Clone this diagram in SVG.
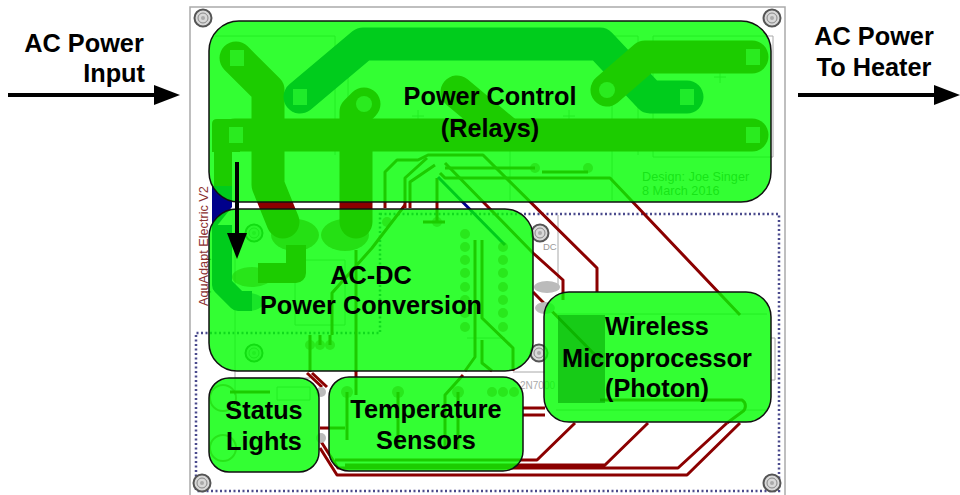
<svg xmlns="http://www.w3.org/2000/svg" width="960" height="495" viewBox="0 0 960 495">
<style>
.w{fill:none;stroke-width:33;stroke-linecap:round;stroke-linejoin:round}
.r{stroke:#8b0000}.b{stroke:#00008b}
.t{fill:none;stroke-width:3;stroke-linejoin:round}
.d{fill:none;stroke:#4a4a8c;stroke-width:2.5;stroke-dasharray:2 2.5}
.s{fill:none;stroke:#a8a8a8;stroke-width:1}
.g{fill:#00ff00;fill-opacity:.8;stroke:#111;stroke-width:1.5}
.l{font:bold 25.3px "Liberation Sans",Arial,sans-serif;fill:#000;text-anchor:middle}
.a{fill:none;stroke:#000;stroke-width:4}
.h{fill:#d8d8d8;stroke:#555;stroke-width:2}
.p{fill:#8b0000;opacity:.45}
</style>
<defs>
<g id="hole"><circle r="8.5" class="h"/><circle r="5" fill="none" stroke="#888"/><circle r="2" fill="#aaa"/></g>
<marker id="ah" markerUnits="userSpaceOnUse" markerWidth="26" markerHeight="20" refX="12" refY="10" orient="auto"><path d="M0 0L26 10L0 20Z" fill="#000"/></marker>
</defs>
<rect width="960" height="495" fill="#fff"/>
<g id="pcb">
<rect x="190" y="7" width="595" height="490" fill="#fff" stroke="#aaa" stroke-width="1.5"/>
<path class="d" d="M380 214H779V491H196V333H380Z"/>
<path class="s" d="M215 36H335V155M348 36V155M500 36H638V155M653 36H773V157H653ZM612 100V200M510 150V200M558 215V290M235 250V395M295 260H345V325H295ZM235 378H310M513 372H545M467 338H505M771 338H775V380H771M556 314H767M556 410H767M277 387H310V400H277ZM412 116h12M418 110v12M563 116h12M569 110v12M714 77h12M720 71v12"/>
<path class="w r" d="M236 58L268 90V185L283 222"/>
<path class="w b" d="M300 97L363 44H600L650 97H687"/>
<path class="w r" d="M364 104L356 112V222"/>
<path class="w r" d="M235 135H752"/>
<path d="M212 124Q212 119 217 119H240V152H212Z" fill="#8b0000"/>
<path class="w r" d="M457 92L505 132"/>
<path class="w r" d="M752 57H645L607 90"/>
<path d="M214 152H232V188H214Z" fill="#8b0000"/>
<path d="M212 186H232V207L212 232Z" fill="#00008b"/>
<path fill="none" stroke="#00008b" stroke-width="20" stroke-linejoin="round" d="M222 225V285L238 301H252"/>
<path fill="none" stroke="#8b0000" stroke-width="20" stroke-linejoin="round" d="M296 245V273H258"/>
<ellipse cx="295" cy="235" rx="24" ry="16" fill="#8b0000" opacity=".6"/>
<ellipse cx="345" cy="235" rx="24" ry="16" fill="#8b0000" opacity=".6"/>
<ellipse cx="252" cy="277" rx="20" ry="10" fill="#8b0000" opacity=".5"/>
<ellipse cx="248" cy="302" rx="16" ry="9" fill="#00008b" opacity=".5"/>
<g class="r">
<path class="t" d="M385 208V172L397 160H418L428 155H483L597 268V292"/>
<path class="t" d="M405 208V178L427 158M410 208V182L435 165M437 222V178"/>
<path class="t" d="M445 163L533 253L563 280V300"/>
<path class="t" d="M445 168H535M542 172H588M440 173L445 178H610L740 315"/>
<path class="t" d="M405 205L372 248L332 293V335M310 335V372M320 335V345M330 335V345M356 250V372M475 240V357L465 371M482 240V318L513 348V371M482 340V363L492 371M423 222H445"/>
<path class="t" d="M312 373L327 387M307 373L322 387"/>
<path class="t" d="M320 448L337 475H687L740 423M320 440L338 468H678L727 423M320 428H345M356 371V395M463 375L445 395V450M523 408H545M523 415H545M345 465H605L648 423M335 460H537L575 423M347 392V440M398 392V445M458 392V450M533 292L600 360M230 392H270"/>
<path class="t" d="M600 400H742A7 7 0 0 1 742 412L727 423"/>
</g>
<path class="t b" d="M438 177L505 245"/>
<g fill="none" stroke="#8b0000" stroke-width="2" opacity=".5"><circle cx="223" cy="398" r="13"/><circle cx="223" cy="448" r="13"/></g>
<g fill="#bbb"><circle cx="321" cy="392" r="5"/><circle cx="321" cy="438" r="5"/><ellipse cx="547" cy="287" rx="13" ry="6"/><ellipse cx="545" cy="308" rx="10" ry="6"/></g>
<g class="p"><circle cx="465" cy="234" r="5"/><circle cx="465" cy="247" r="5"/><circle cx="465" cy="260" r="5"/><circle cx="465" cy="273" r="5"/><circle cx="465" cy="287" r="5"/><circle cx="465" cy="300" r="5"/><circle cx="465" cy="313" r="5"/><circle cx="465" cy="327" r="5"/>
<circle cx="503" cy="247" r="5"/><circle cx="503" cy="260" r="5"/><circle cx="503" cy="273" r="5"/><circle cx="503" cy="287" r="5"/><circle cx="503" cy="300" r="5"/><circle cx="503" cy="313" r="5"/><circle cx="503" cy="327" r="5"/>
<circle cx="310" cy="345" r="5"/><circle cx="320" cy="345" r="5"/><circle cx="330" cy="345" r="5"/><circle cx="347" cy="392" r="6"/><circle cx="398" cy="392" r="6"/><circle cx="458" cy="392" r="6"/><circle cx="492" cy="392" r="5"/><circle cx="503" cy="392" r="5"/><circle cx="514" cy="392" r="5"/><circle cx="387" cy="222" r="5"/><circle cx="437" cy="222" r="5"/><circle cx="535" cy="168" r="5"/><circle cx="588" cy="168" r="5"/></g>
<g fill="#fff" opacity=".6"><rect x="230" y="50" width="14" height="16"/><rect x="293" y="89" width="14" height="16"/><rect x="229" y="127" width="14" height="16"/><rect x="746" y="49" width="14" height="16"/><rect x="680" y="89" width="14" height="16"/><rect x="746" y="127" width="14" height="16"/><circle cx="364" cy="104" r="8"/><circle cx="607" cy="90" r="8"/></g>
<g font-family="Liberation Sans,Arial,sans-serif">
<text x="642" y="181" font-size="12.7" fill="#777">Design: Joe Singer</text>
<text x="642" y="195" font-size="12.7" fill="#777">8 March 2016</text>
<text x="543" y="250" font-size="9.5" fill="#999">DC</text>
<text x="520" y="389" font-size="10" fill="#aaa">2N7000</text>
<text transform="translate(208 306) rotate(-90)" font-size="12.7" fill="#8b3030">AquAdapt Electric V2</text>
</g>
<use href="#hole" x="203" y="18"/><use href="#hole" x="772" y="18"/><use href="#hole" x="202" y="483"/><use href="#hole" x="772" y="483"/><use href="#hole" x="539" y="353"/><use href="#hole" x="540" y="233"/><use href="#hole" x="254" y="353"/><use href="#hole" x="254" y="233"/>
</g>
<g id="power-control"><rect class="g" x="209" y="21" width="562" height="181" rx="30"/>
<text class="l" x="490" y="105">Power Control</text><text class="l" x="490" y="137">(Relays)</text></g>
<g id="ac-dc"><rect class="g" x="209" y="209" width="324" height="162" rx="28"/>
<text class="l" x="371" y="284">AC-DC</text><text class="l" x="371" y="314">Power Conversion</text></g>
<g id="wireless"><rect class="g" x="544" y="292" width="227" height="130" rx="25"/>
<rect x="558" y="315" width="47" height="88" fill="#00a000" opacity=".55"/>
<text class="l" x="657" y="335">Wireless</text><text class="l" x="657" y="367">Microprocessor</text><text class="l" x="657" y="397">(Photon)</text></g>
<g id="status"><rect class="g" x="209" y="378" width="110" height="94" rx="20"/>
<text class="l" x="264" y="419">Status</text><text class="l" x="264" y="450">Lights</text></g>
<g id="temperature"><rect class="g" x="329" y="377" width="194" height="94" rx="20"/>
<text class="l" x="426" y="418">Temperature</text><text class="l" x="426" y="449">Sensors</text></g>
<g id="input-label"><text class="l" x="84" y="52">AC Power</text><text class="l" x="145" y="82" style="text-anchor:end">Input</text></g>
<g id="output-label"><text class="l" x="874" y="45">AC Power</text><text class="l" x="874" y="76">To Heater</text></g>
<g id="connectors">
<path class="a" d="M8 95H166" marker-end="url(#ah)"/>
<path class="a" d="M798 95H946" marker-end="url(#ah)"/>
<path class="a" d="M237 162V245" marker-end="url(#ah)"/>
</g>
</svg>
